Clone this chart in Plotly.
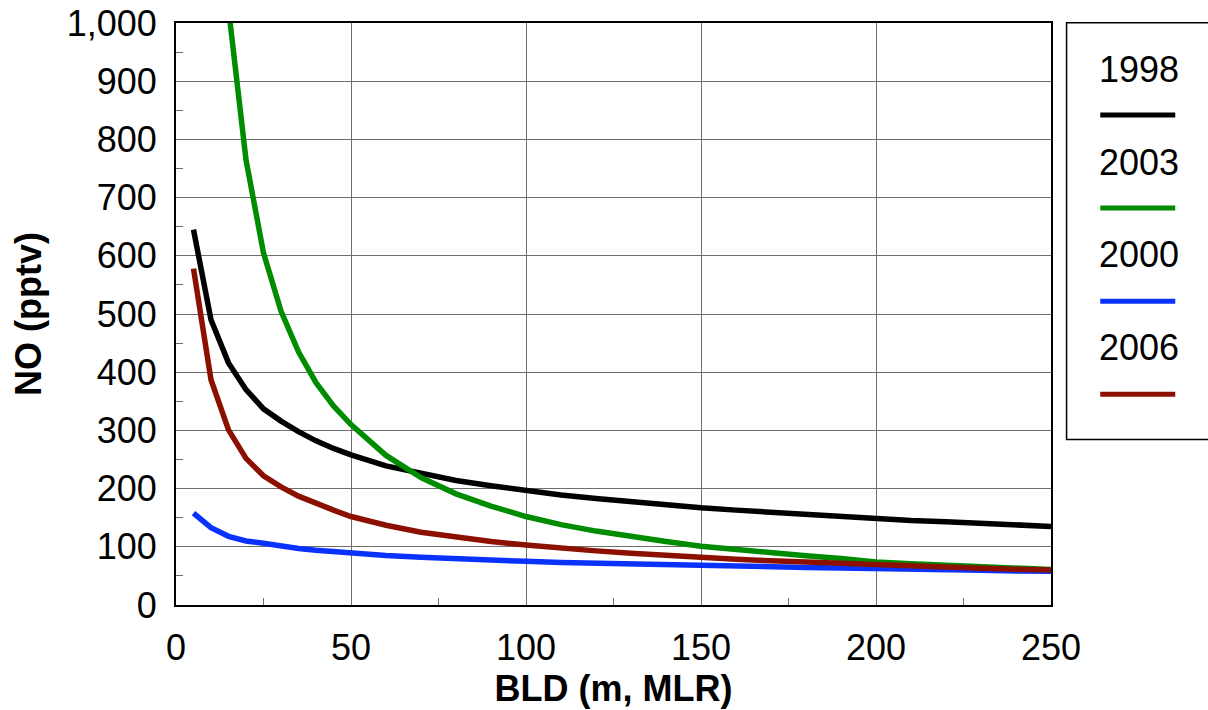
import plotly.graph_objects as go

# Boundary-layer depth (m, MLR) sample points
bld = [5, 10, 15, 20, 25, 30, 35, 40, 45, 50, 60, 70, 80, 90, 100,
       110, 120, 130, 140, 150, 160, 170, 180, 190, 200, 210, 220, 230, 240, 250]

# NO mixing ratio (pptv) per year
no_1998 = [645, 490, 416, 370, 337, 316, 298, 282, 269, 258, 239, 226, 214, 205, 196,
           189, 183, 177, 172, 167, 163, 159, 155, 152, 148, 145, 143, 140, 138, 135]
no_2003 = [3040, 1520, 1025, 765, 605, 505, 435, 382, 342, 310, 257, 219, 191, 170, 152,
           138, 127, 117, 109, 101, 95, 89.5, 84.5, 80, 74, 71, 68, 65, 63, 61]
no_2000 = [158, 133, 118, 110, 106, 101, 97, 94, 91.5, 89, 85, 82, 79, 77, 75,
           73, 71.5, 70, 69, 67.5, 66.5, 65.5, 64.5, 63.5, 62, 61.5, 60.5, 59.5, 58.5, 58]
no_2006 = [578, 387, 301, 252, 222, 203, 187, 174, 163, 152, 137, 125, 116, 109, 103,
           97, 93, 89, 85, 81, 78.5, 76, 73.5, 71.5, 68.5, 66, 64.5, 63, 61.5, 60]

years = ["1998", "2003", "2000", "2006"]
series = [no_1998, no_2003, no_2000, no_2006]
colors = ["#000000", "#008C00", "#0A32FF", "#8B1000"]

FONT = "Arial, Liberation Sans, sans-serif"

fig = go.Figure()
for name, vals, col in zip(years, series, colors):
    fig.add_trace(go.Scatter(x=bld, y=vals, mode="lines", name=name,
                             line=dict(color=col, width=5.5),
                             showlegend=False))

# Boxed legend on the right: year label above a line sample
legend_x0, legend_x1 = 1.0178, 1.19
shapes = [dict(type="rect", xref="paper", yref="paper",
               x0=legend_x0, x1=legend_x1, y0=0.2843, y1=1.0003,
               line=dict(color="#000000", width=1.5), fillcolor="white", layer="below")]
annotations = []
label_y = [0.920, 0.760, 0.602, 0.443]
sample_y = [0.842, 0.682, 0.522, 0.362]
for name, col, ly, sy in zip(years, colors, label_y, sample_y):
    annotations.append(dict(text=name, xref="paper", yref="paper", x=1.1006, y=ly,
                            showarrow=False, xanchor="center", yanchor="middle",
                            font=dict(family=FONT, size=36, color="#000000")))
    shapes.append(dict(type="line", xref="paper", yref="paper",
                       x0=1.0563, x1=1.1420, y0=sy, y1=sy,
                       line=dict(color=col, width=5)))

axis_common = dict(
    showline=True, linecolor="#000000", linewidth=2, mirror=True,
    showgrid=True, gridcolor="#6e6e6e", gridwidth=1, automargin=False,
    zeroline=False, ticks="inside", ticklen=7, tickcolor="#6e6e6e",
    tickfont=dict(family=FONT, size=36, color="#000000"),
)

fig.update_layout(
    width=1208, height=710,
    margin=dict(l=176, r=157, t=23, b=105, autoexpand=False),
    paper_bgcolor="white", plot_bgcolor="white",
    font=dict(family=FONT, color="#000000"),
    xaxis=dict(range=[0, 250], dtick=50,
               minor=dict(dtick=25, ticks="inside", ticklen=7, tickcolor="#6e6e6e", showgrid=False),
               title=dict(text="<b>BLD (m, MLR)</b>", font=dict(family=FONT, size=36), standoff=4),
               ticklabelstandoff=10, **axis_common),
    yaxis=dict(range=[0, 1000], dtick=100, tickformat=",",
               minor=dict(dtick=50, ticks="inside", ticklen=7, tickcolor="#6e6e6e", showgrid=False),
               title=dict(text="<b>NO (pptv)</b>", font=dict(family=FONT, size=36), standoff=14),
               ticklabelstandoff=10, **axis_common),
    shapes=shapes, annotations=annotations,
)

fig.write_html("out.html")
